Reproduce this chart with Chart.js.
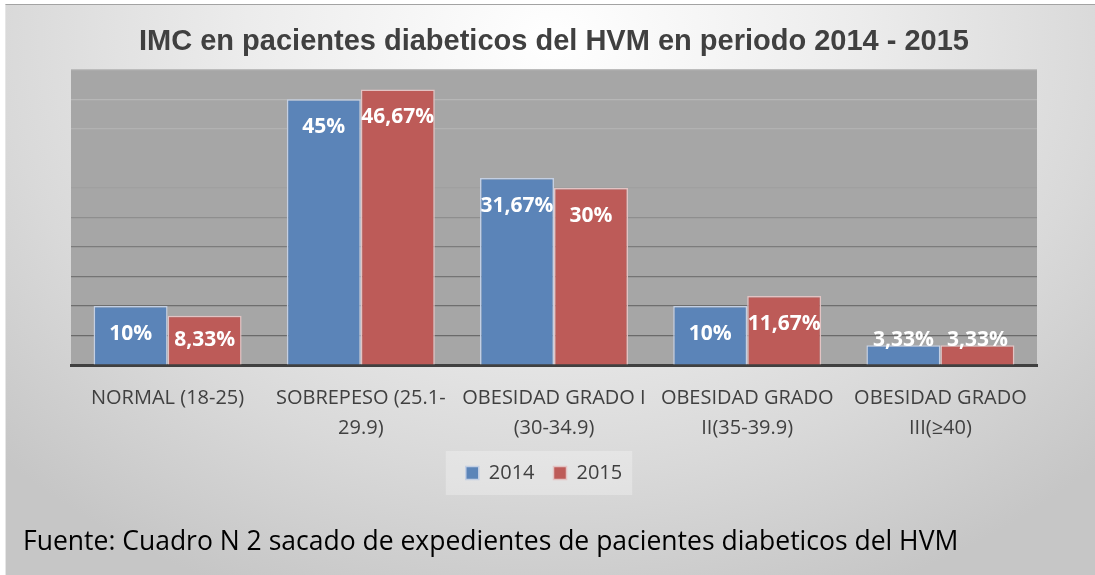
<!DOCTYPE html>
<html>
<head>
<meta charset="utf-8">
<script src="https://cdn.jsdelivr.net/npm/chart.js@4.4.1/dist/chart.umd.min.js"></script>
<style>
  html, body { margin: 0; padding: 0; background: #ffffff; }
  #wrap { position: relative; width: 1095px; height: 575px; overflow: hidden; }
  #bg {
    position: absolute; left: 5px; top: 4px; width: 1095px; height: 575px;
    border-top: 1px solid #a3a3a3; border-left: 1px solid #e6e6e6;
    background: radial-gradient(ellipse 70% 105% at 50% 6%, #ffffff 0%, #ececec 40%, #d9d9d9 72%, #c6c6c6 100%);
  }
  #c { position: absolute; left: 0; top: 0; }
  #note {
    position: absolute; left: 23px; top: 522px;
    font-family: "Open Sans", sans-serif; font-size: 26.5px; color: #000;
    line-height: 36px; white-space: nowrap;
  }
</style>
</head>
<body>
<div id="wrap">
  <div id="bg"></div>
  <canvas id="c" width="1095" height="575"></canvas>
  <div id="note">Fuente: Cuadro N 2 sacado de expedientes de pacientes diabeticos del HVM</div>
</div>
<script>
const chartTitle = "IMC en pacientes diabeticos del HVM en periodo 2014 - 2015";
const categories = [
  ["NORMAL (18-25)"],
  ["SOBREPESO (25.1-", "29.9)"],
  ["OBESIDAD GRADO I", "(30-34.9)"],
  ["OBESIDAD GRADO", "II(35-39.9)"],
  ["OBESIDAD GRADO", "III(≥40)"]
];
const seriesNames = ["2014", "2015"];
const values2014 = [10, 45, 31.67, 10, 3.33];
const values2015 = [8.33, 46.67, 30, 11.67, 3.33];
const yTicks = [0, 5, 10, 15, 20, 25, 30, 35, 40, 45, 50];

const gridColors = {
  0: 'rgba(0,0,0,0)', 5: '#6a6a6a', 10: '#6e6e6e', 15: '#747474', 20: '#7c7c7c',
  25: '#8e8e8e', 30: '#a0a0a0', 35: '#a6a6a6', 40: '#b2b2b2', 45: '#b7b7b7', 50: '#bcbcbc'
};

const fmt = v => String(v).replace('.', ',') + '%';

const legendShift = {
  id: 'legendShift',
  afterLayout(chart) {
    const lg = chart.legend;
    if (lg) { lg.left -= 10; lg.right -= 10; }
  }
};

const plotBg = {
  id: 'plotBg',
  beforeDraw(chart) {
    const { ctx, chartArea: a } = chart;
    ctx.save();
    ctx.fillStyle = '#a6a6a6';
    ctx.fillRect(a.left, a.top, a.right - a.left, a.bottom - a.top);
    const boxes = chart.legend && chart.legend.legendHitBoxes;
    if (boxes && boxes.length) {
      const l = boxes[0].left - 20;
      const r = boxes[boxes.length - 1].left + boxes[boxes.length - 1].width + 10;
      const cy = boxes[0].top + boxes[0].height / 2;
      ctx.fillStyle = 'rgba(255,255,255,0.28)';
      ctx.fillRect(l, cy - 22, r - l, 44);
    }
    ctx.restore();
  }
};

const valueLabels = {
  id: 'valueLabels',
  afterDatasetsDraw(chart) {
    const { ctx } = chart;
    ctx.save();
    ctx.font = 'bold 21px "Open Sans", sans-serif';
    ctx.fillStyle = '#ffffff';
    ctx.textAlign = 'center';
    ctx.textBaseline = 'middle';
    chart.data.datasets.forEach((ds, i) => {
      const meta = chart.getDatasetMeta(i);
      meta.data.forEach((el, j) => {
        const y = Math.min(el.y + 28, el.base - 24);
        ctx.fillText(fmt(ds.data[j]), el.x, y);
      });
    });
    ctx.restore();
  }
};

new Chart(document.getElementById('c'), {
  type: 'bar',
  data: {
    labels: categories,
    datasets: [
      { label: seriesNames[0], data: values2014, backgroundColor: '#5b84b8', borderColor: '#c3cfe3', borderWidth: 1.5 },
      { label: seriesNames[1], data: values2015, backgroundColor: '#bd5b58', borderColor: '#e3c3c3', borderWidth: 1.5 }
    ]
  },
  options: {
    responsive: false,
    animation: false,
    devicePixelRatio: 1,
    layout: { padding: { left: 71, right: 58, top: 0, bottom: 82 } },
    datasets: { bar: { categoryPercentage: 0.766, barPercentage: 1.0 } },
    scales: {
      x: {
        grid: { display: false, drawTicks: false },
        border: { display: true, color: '#404040', width: 3 },
        ticks: {
          color: '#404040', padding: 18, maxRotation: 0, minRotation: 0, autoSkip: false,
          font: { family: '"Open Sans", sans-serif', size: 20, lineHeight: '30px' }
        },
        afterFit(scale) { scale.height -= 17; }
      },
      y: {
        min: 0, max: 50,
        afterBuildTicks(scale) { scale.ticks = yTicks.map(v => ({ value: v })); },
        ticks: { display: false },
        border: { display: false },
        grid: {
          drawTicks: false,
          lineWidth: 1.2,
          color: ctx => gridColors[ctx.tick.value] || '#888888'
        }
      }
    },
    plugins: {
      title: {
        display: true, text: chartTitle, color: '#404040',
        font: { family: '"Liberation Sans", Arial, sans-serif', size: 29, weight: 'bold', lineHeight: 1.2 },
        padding: { top: 25, bottom: 10 }
      },
      legend: {
        position: 'bottom',
        labels: {
          boxWidth: 13, boxHeight: 13, padding: 19, color: '#404040',
          font: { family: '"Open Sans", sans-serif', size: 20 }
        }
      },
      tooltip: { enabled: false }
    }
  },
  plugins: [legendShift, plotBg, valueLabels]
});
</script>
</body>
</html>
